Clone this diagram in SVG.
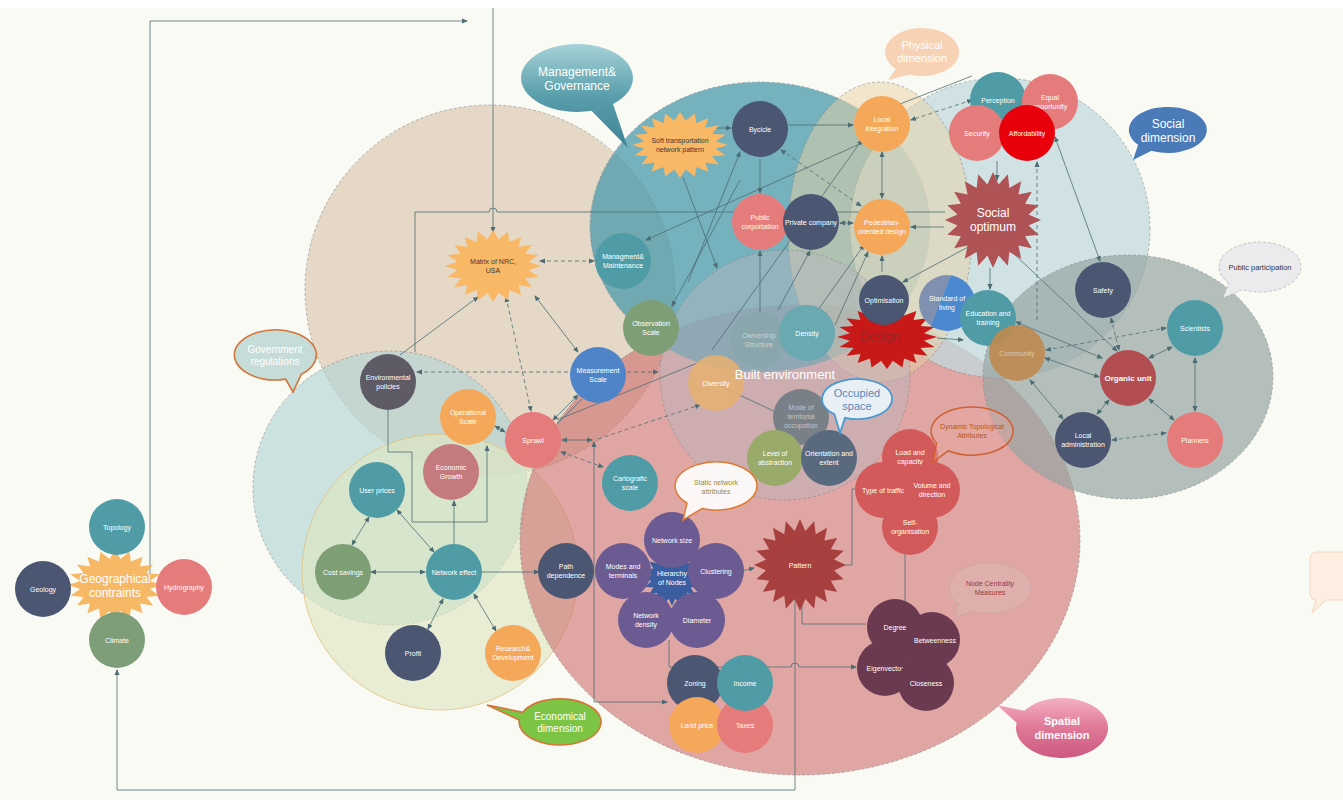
<svg xmlns="http://www.w3.org/2000/svg" width="1343" height="800" viewBox="0 0 1343 800">
<style>
.t{font-family:"Liberation Sans",Arial,sans-serif;font-size:7px;fill:#fff;text-anchor:middle}
.tb{font-family:"Liberation Sans",Arial,sans-serif;text-anchor:middle}
.c{stroke:#4d6c72;stroke-width:0.8;fill:none}
.d{stroke-dasharray:4 3}
.reg{stroke:#8a8a8a;stroke-width:0.6;stroke-dasharray:3 2}
</style>
<defs>
<marker id="a" markerWidth="6" markerHeight="6" refX="5" refY="3" orient="auto-start-reverse" markerUnits="userSpaceOnUse"><path d="M0,0.5 L6,3 L0,5.5 Z" fill="#4d6c72"/></marker>
<path id="star" d="M100,0 L74.1,11.7 L95.1,30.9 L66.8,34.1 L80.9,58.8 L53,53 L58.8,80.9 L34.1,66.8 L30.9,95.1 L11.7,74.1 L0,100 L-11.7,74.1 L-30.9,95.1 L-34.1,66.8 L-58.8,80.9 L-53,53 L-80.9,58.8 L-66.8,34.1 L-95.1,30.9 L-74.1,11.7 L-100,0 L-74.1,-11.7 L-95.1,-30.9 L-66.8,-34.1 L-80.9,-58.8 L-53,-53 L-58.8,-80.9 L-34.1,-66.8 L-30.9,-95.1 L-11.7,-74.1 L0,-100 L11.7,-74.1 L30.9,-95.1 L34.1,-66.8 L58.8,-80.9 L53,-53 L80.9,-58.8 L66.8,-34.1 L95.1,-30.9 L74.1,-11.7 Z"/>
<linearGradient id="gMg" x1="0" y1="0" x2="0" y2="1"><stop offset="0" stop-color="#a6d2d8"/><stop offset="0.5" stop-color="#5a9eac"/><stop offset="1" stop-color="#3e8494"/></linearGradient>
<linearGradient id="gSp" x1="0" y1="0" x2="0" y2="1"><stop offset="0" stop-color="#f4b0c4"/><stop offset="0.5" stop-color="#e07898"/><stop offset="1" stop-color="#cc5880"/></linearGradient>
<linearGradient id="gSt" x1="0" y1="0" x2="1" y2="0.4"><stop offset="0.5" stop-color="#8090b0"/><stop offset="0.5" stop-color="#4a88d0"/></linearGradient>
</defs>
<rect x="0" y="0" width="1343" height="800" fill="#fafaf5"/>
<rect x="0" y="0" width="1343" height="8" fill="#ffffff"/>

<g id="regions">
<circle cx="490" cy="290" r="185" fill="#dcc9b2" fill-opacity="0.7" class="reg"/>
<circle cx="390" cy="488" r="137" fill="#b4d6d6" fill-opacity="0.65" class="reg"/>
<circle cx="440" cy="572" r="138" fill="#dfe6c2" fill-opacity="0.65" stroke="#e2c27e" stroke-width="0.8"/>
<ellipse cx="800" cy="540" rx="280" ry="235" fill="#cd6e6e" fill-opacity="0.6" class="reg"/>
<ellipse cx="760" cy="227" rx="170" ry="145" fill="#4a9aab" fill-opacity="0.75" class="reg"/>
<circle cx="1000" cy="228" r="150" fill="#c2d9de" fill-opacity="0.75" class="reg"/>
<ellipse cx="880" cy="232" rx="92" ry="150" fill="#e8cfa4" fill-opacity="0.5" class="reg"/>
<ellipse cx="1128" cy="377" rx="145" ry="122" fill="#95a5a3" fill-opacity="0.7" class="reg"/>
<circle cx="785" cy="375" r="125" fill="#b9b5be" fill-opacity="0.45" class="reg"/>
</g>

<g id="connectors">
<polyline class="c" points="150,584 150,21 467,21" marker-end="url(#a)"/>
<line class="c" x1="493" y1="8" x2="493" y2="232" marker-end="url(#a)"/>
<polyline class="c" points="795,566 795,790 117,790 117,670" marker-end="url(#a)"/>
<line class="c" x1="117" y1="620" x2="117" y2="612" marker-end="url(#a)"/>
<path class="c" d="M415,352 L415,212 L489,212 A4,4 0 0 1 497,212 L945,212"/>
<polyline class="c" points="388,410 388,452 412,452 412,522 487,522 487,446" marker-end="url(#a)"/>
<line class="c" x1="454" y1="544" x2="454" y2="501" marker-end="url(#a)"/>
<line class="c" x1="482" y1="572" x2="539" y2="572" marker-end="url(#a)"/>
<line class="c" x1="371" y1="572" x2="425" y2="572" marker-start="url(#a)" marker-end="url(#a)"/>
<line class="c" x1="369" y1="517" x2="352" y2="545" marker-start="url(#a)" marker-end="url(#a)"/>
<line class="c" x1="397" y1="510" x2="434" y2="552" marker-start="url(#a)" marker-end="url(#a)"/>
<line class="c" x1="443" y1="599" x2="428" y2="629" marker-start="url(#a)" marker-end="url(#a)"/>
<line class="c" x1="474" y1="594" x2="496" y2="631" marker-start="url(#a)" marker-end="url(#a)"/>
<line class="c" x1="400" y1="355" x2="478" y2="297" marker-end="url(#a)"/>
<line class="c d" x1="417" y1="372" x2="658" y2="372" marker-start="url(#a)" marker-end="url(#a)"/>
<line class="c d" x1="540" y1="261" x2="594" y2="261" marker-start="url(#a)" marker-end="url(#a)"/>
<line class="c" x1="535" y1="296" x2="578" y2="352" marker-start="url(#a)" marker-end="url(#a)"/>
<line class="c d" x1="506" y1="297" x2="531" y2="411" marker-start="url(#a)" marker-end="url(#a)"/>
<line class="c" x1="578" y1="395" x2="553" y2="420" marker-start="url(#a)" marker-end="url(#a)"/>
<line class="c" x1="582" y1="399" x2="557" y2="424"/>
<line class="c" x1="495" y1="426" x2="505" y2="432" marker-start="url(#a)" marker-end="url(#a)"/>
<line class="c" x1="562" y1="440" x2="592" y2="440" marker-start="url(#a)" marker-end="url(#a)"/>
<polyline class="c" points="594,442 594,702 667,702" marker-start="url(#a)" marker-end="url(#a)"/>
<line class="c d" x1="561" y1="452" x2="603" y2="467" marker-start="url(#a)" marker-end="url(#a)"/>
<line class="c d" x1="598" y1="439" x2="700" y2="405" marker-end="url(#a)"/>
<line class="c" x1="557" y1="420" x2="700" y2="362"/>
<line class="c" x1="740" y1="180" x2="672" y2="306" marker-end="url(#a)"/>
<line class="c" x1="683" y1="177" x2="717" y2="268" marker-end="url(#a)"/>
<line class="c" x1="688" y1="282" x2="740" y2="152" marker-end="url(#a)"/>
<line class="c" x1="714" y1="128" x2="731" y2="128" marker-end="url(#a)"/>
<line class="c" x1="789" y1="125" x2="853" y2="125" marker-end="url(#a)"/>
<line class="c" x1="760" y1="159" x2="760" y2="193" marker-end="url(#a)"/>
<line class="c d" x1="781" y1="150" x2="861" y2="206" marker-start="url(#a)" marker-end="url(#a)"/>
<line class="c" x1="882" y1="152" x2="882" y2="198" marker-start="url(#a)" marker-end="url(#a)"/>
<line class="c" x1="840" y1="223" x2="853" y2="223" marker-start="url(#a)" marker-end="url(#a)"/>
<line class="c" x1="944" y1="227" x2="911" y2="227" marker-end="url(#a)"/>
<line class="c d" x1="972" y1="100" x2="911" y2="120" marker-start="url(#a)" marker-end="url(#a)"/>
<line class="c" x1="900" y1="104" x2="972" y2="76"/>
<line class="c" x1="862" y1="143" x2="646" y2="240" marker-end="url(#a)"/>
<line class="c" x1="760" y1="312" x2="760" y2="251" marker-end="url(#a)"/>
<line class="c" x1="778" y1="310" x2="810" y2="251" marker-end="url(#a)"/>
<line class="c" x1="818" y1="310" x2="864" y2="245" marker-end="url(#a)"/>
<line class="c" x1="835" y1="325" x2="868" y2="252" marker-end="url(#a)"/>
<line class="c" x1="882" y1="272" x2="882" y2="256" marker-end="url(#a)"/>
<line class="c" x1="712" y1="350" x2="862" y2="140" marker-end="url(#a)"/>
<line class="c" x1="968" y1="247" x2="903" y2="282" marker-end="url(#a)"/>
<line class="c" x1="997" y1="161" x2="997" y2="180" marker-end="url(#a)"/>
<line class="c d" x1="1037" y1="162" x2="1037" y2="320" marker-start="url(#a)"/>
<line class="c" x1="1055" y1="137" x2="1100" y2="261" marker-start="url(#a)" marker-end="url(#a)"/>
<line class="c" x1="990" y1="268" x2="990" y2="289" marker-end="url(#a)"/>
<line class="c" x1="1013" y1="253" x2="1117" y2="351" marker-end="url(#a)"/>
<line class="c" x1="1016" y1="322" x2="1102" y2="358" marker-start="url(#a)" marker-end="url(#a)"/>
<line class="c" x1="1045" y1="358" x2="1099" y2="377" marker-start="url(#a)" marker-end="url(#a)"/>
<line class="c d" x1="1046" y1="350" x2="1166" y2="328" marker-start="url(#a)" marker-end="url(#a)"/>
<line class="c d" x1="1111" y1="318" x2="1119" y2="350" marker-start="url(#a)" marker-end="url(#a)"/>
<line class="c" x1="1149" y1="358" x2="1172" y2="347" marker-start="url(#a)" marker-end="url(#a)"/>
<line class="c" x1="1195" y1="358" x2="1195" y2="411" marker-start="url(#a)" marker-end="url(#a)"/>
<line class="c" x1="1149" y1="399" x2="1174" y2="420" marker-start="url(#a)" marker-end="url(#a)"/>
<line class="c" x1="1109" y1="400" x2="1097" y2="414" marker-start="url(#a)" marker-end="url(#a)"/>
<line class="c d" x1="1112" y1="440" x2="1166" y2="433" marker-start="url(#a)" marker-end="url(#a)"/>
<line class="c" x1="1030" y1="380" x2="1063" y2="419" marker-start="url(#a)" marker-end="url(#a)"/>
<line class="c" x1="937" y1="338" x2="963" y2="340" marker-end="url(#a)"/>
<line class="c" x1="718" y1="385" x2="780" y2="414" marker-end="url(#a)"/>
<line class="c" x1="742" y1="571" x2="754" y2="568" marker-end="url(#a)"/>
<polyline class="c" points="845,565 852,565 852,489 880,489"/>
<line class="c" x1="905" y1="492" x2="905" y2="646" marker-start="url(#a)" marker-end="url(#a)"/>
<polyline class="c" points="802,580 802,624 866,624"/>
<path class="c" d="M669,640 L669,667 L791,667 A4,4 0 0 1 799,667 L856,667" marker-end="url(#a)"/>
</g>

<g id="geographical-contraints">
<use href="#star" transform="translate(115,585) scale(0.47,0.35)" fill="#f7b866"/>
<text class="tb" x="115" y="583" font-size="12" fill="#fff">Geographical</text>
<text class="tb" x="115" y="597" font-size="12" fill="#fff">contraints</text>
</g>
<g id="topology"><circle cx="117" cy="527" r="28" fill="#4f9ca6"/><text class="t" x="117" y="530">Topology</text></g>
<g id="geology"><circle cx="43" cy="589" r="28" fill="#4b5672"/><text class="t" x="43" y="592">Geology</text></g>
<g id="hydrography"><circle cx="184" cy="587" r="28" fill="#e57b7b"/><text class="t" x="184" y="590">Hydrography</text></g>
<g id="climate"><circle cx="117" cy="640" r="28" fill="#7e9e7a"/><text class="t" x="117" y="643">Climate</text></g>

<g id="matrix-nrc">
<use href="#star" transform="translate(493,266) scale(0.48,0.36)" fill="#f8b866"/>
<text class="t" x="493" y="264" style="fill:#3a3a3a">Matrix of NRC,</text>
<text class="t" x="493" y="273" style="fill:#3a3a3a">USA</text>
</g>
<g id="environmental-policies"><circle cx="388" cy="382" r="28" fill="#5e5a66"/><text class="t" x="388" y="380">Environmental<tspan x="388" dy="9">policies</tspan></text></g>
<g id="operational-scale"><circle cx="468" cy="417" r="28" fill="#f5a85a"/><text class="t" x="468" y="415">Operational<tspan x="468" dy="9">Scale</tspan></text></g>
<g id="sprawl"><circle cx="533" cy="440" r="28" fill="#e57b7b"/><text class="t" x="533" y="443">Sprawl</text></g>
<g id="measurement-scale"><circle cx="598" cy="375" r="28" fill="#4f85c8"/><text class="t" x="598" y="373">Measurement<tspan x="598" dy="9">Scale</tspan></text></g>
<g id="observation-scale"><circle cx="651" cy="328" r="28" fill="#7e9e76"/><text class="t" x="651" y="326">Observation<tspan x="651" dy="9">Scale</tspan></text></g>
<g id="managment-maintenance"><circle cx="623" cy="261" r="28" fill="#4f9ca6"/><text class="t" x="623" y="259">Managment&amp;<tspan x="623" dy="9">Maintenance</tspan></text></g>

<g id="economic-growth"><circle cx="451" cy="472" r="28" fill="#c57a80"/><text class="t" x="451" y="470">Economic<tspan x="451" dy="9">Growth</tspan></text></g>
<g id="user-prices"><circle cx="377" cy="490" r="28" fill="#4f9ca6"/><text class="t" x="377" y="493">User prices</text></g>
<g id="cost-savings"><circle cx="343" cy="572" r="28" fill="#7e9e76"/><text class="t" x="343" y="575">Cost savings</text></g>
<g id="network-effect"><circle cx="454" cy="572" r="28" fill="#4f9ca6"/><text class="t" x="454" y="575">Network effect</text></g>
<g id="profit"><circle cx="413" cy="653" r="28" fill="#4b5672"/><text class="t" x="413" y="656">Profit</text></g>
<g id="research-development"><circle cx="513" cy="653" r="28" fill="#f5a85a"/><text class="t" x="513" y="651">Research&amp;<tspan x="513" dy="9">Development</tspan></text></g>
<g id="path-dependence"><circle cx="566" cy="571" r="28" fill="#4b5672"/><text class="t" x="566" y="569">Path<tspan x="566" dy="9">dependence</tspan></text></g>

<g id="soft-transportation">
<use href="#star" transform="translate(680,145) scale(0.48,0.33)" fill="#f8b866"/>
<text class="t" x="680" y="143" style="fill:#3a3a3a">Soft transportation</text>
<text class="t" x="680" y="152" style="fill:#3a3a3a">network pattern</text>
</g>
<g id="bycicle"><circle cx="760" cy="129" r="28" fill="#4b5672"/><text class="t" x="760" y="132">Bycicle</text></g>
<g id="local-integration"><circle cx="882" cy="124" r="28" fill="#f5a85a"/><text class="t" x="882" y="122">Local<tspan x="882" dy="9">integration</tspan></text></g>
<g id="public-corportation"><circle cx="760" cy="222" r="28" fill="#e57b7b"/><text class="t" x="760" y="220">Public<tspan x="760" dy="9">corportation</tspan></text></g>
<g id="private-company"><circle cx="811" cy="222" r="28" fill="#4b5672"/><text class="t" x="811" y="225">Private company</text></g>
<g id="pedestrian-oriented-design"><circle cx="882" cy="227" r="28" fill="#f5a85a"/><text class="t" x="882" y="225">Pedestrian-<tspan x="882" dy="9">oriented design</tspan></text></g>

<g id="ownership-structure"><circle cx="759" cy="340" r="28" fill="#86a6a8" fill-opacity="0.75"/><text class="t" x="759" y="338" style="fill:#c8d4d4">Ownership<tspan x="759" dy="9">Structure</tspan></text></g>
<g id="density"><circle cx="807" cy="333" r="28" fill="#6aa8b2"/><text class="t" x="807" y="336">Density</text></g>
<g id="diversity"><circle cx="716" cy="383" r="28" fill="#e8b070" fill-opacity="0.85"/><text class="t" x="716" y="386">Diversity</text></g>
<g id="design">
<use href="#star" transform="translate(887,337) scale(0.5,0.32)" fill="#c81818"/>
<text class="tb" x="880" y="341" font-size="13" fill="#8a2a2a" fill-opacity="0.8">Design</text>
</g>
<g id="optimisation"><circle cx="884" cy="300" r="25" fill="#4b5672"/><text class="t" x="884" y="303">Optimisation</text></g>
<g id="standard-of-living"><circle cx="947" cy="303" r="28" fill="url(#gSt)"/><text class="t" x="947" y="301">Standard of<tspan x="947" dy="9">living</tspan></text></g>
<g id="mode-territorial-occupation"><circle cx="801" cy="417" r="28" fill="#7a8088"/><text class="t" x="801" y="410" style="fill:#c0c4c8">Mode of<tspan x="801" dy="9">territorial</tspan><tspan x="801" dy="9">occupation</tspan></text></g>
<g id="level-of-abstraction"><circle cx="775" cy="458" r="28" fill="#9aaa6a"/><text class="t" x="775" y="456">Level of<tspan x="775" dy="9">abstraction</tspan></text></g>
<g id="orientation-extent"><circle cx="829" cy="458" r="28" fill="#5a6a7e"/><text class="t" x="829" y="456">Orientation and<tspan x="829" dy="9">extent</tspan></text></g>
<text id="built-environment-label" class="tb" x="785" y="379" font-size="13" fill="#fff">Built environment</text>

<g id="perception"><circle cx="998" cy="100" r="28" fill="#4f9ca6"/><text class="t" x="998" y="103">Perception</text></g>
<g id="equal-opportunity"><circle cx="1050" cy="102" r="28" fill="#e57b7b"/><text class="t" x="1050" y="100">Equal<tspan x="1050" dy="9">opportunity</tspan></text></g>
<g id="security"><circle cx="977" cy="133" r="28" fill="#e57b7b"/><text class="t" x="977" y="136">Security</text></g>
<g id="affordability"><circle cx="1027" cy="133" r="28" fill="#e8000a"/><text class="t" x="1027" y="136">Affordability</text></g>
<g id="social-optimum">
<use href="#star" transform="translate(993,220) scale(0.48,0.48)" fill="#b05356"/>
<text class="tb" x="993" y="217" font-size="12" fill="#fff">Social</text>
<text class="tb" x="993" y="231" font-size="12" fill="#fff">optimum</text>
</g>
<g id="education-training"><circle cx="988" cy="318" r="28" fill="#4f9ca6"/><text class="t" x="988" y="316">Education and<tspan x="988" dy="9">training</tspan></text></g>
<g id="community"><circle cx="1017" cy="353" r="28" fill="#c08a50" fill-opacity="0.9"/><text class="t" x="1017" y="356" style="fill:#e0c8a8">Community</text></g>
<g id="safety"><circle cx="1103" cy="290" r="28" fill="#4b5672"/><text class="t" x="1103" y="293">Safety</text></g>
<g id="scientists"><circle cx="1195" cy="328" r="28" fill="#4f9ca6"/><text class="t" x="1195" y="331">Scientists</text></g>
<g id="organic-unit"><circle cx="1128" cy="378" r="28" fill="#b24d52"/><text class="t" x="1128" y="381" font-weight="bold" style="font-size:8px">Organic unit</text></g>
<g id="local-administration"><circle cx="1083" cy="440" r="28" fill="#4b5672"/><text class="t" x="1083" y="438">Local<tspan x="1083" dy="9">administration</tspan></text></g>
<g id="planners"><circle cx="1195" cy="440" r="28" fill="#e57b7b"/><text class="t" x="1195" y="443">Planners</text></g>

<g id="cartografic-scale"><circle cx="630" cy="483" r="28" fill="#4f9ca6"/><text class="t" x="630" y="481">Cartografic<tspan x="630" dy="9">scale</tspan></text></g>
<g id="hierarchy-of-nodes">
<use href="#star" transform="translate(672,578) scale(0.28,0.28)" fill="#3a5ea0"/>
<text class="t" x="672" y="576">Hierarchy<tspan x="672" dy="9">of Nodes</tspan></text>
</g>
<g id="network-size"><circle cx="672" cy="540" r="28" fill="#6c5b92"/><text class="t" x="672" y="543">Network size</text></g>
<g id="modes-terminals"><circle cx="623" cy="571" r="28" fill="#6c5b92"/><text class="t" x="623" y="569">Modes and<tspan x="623" dy="9">terminals</tspan></text></g>
<g id="clustering"><circle cx="716" cy="571" r="28" fill="#6c5b92"/><text class="t" x="716" y="574">Clustering</text></g>
<g id="network-density"><circle cx="646" cy="620" r="28" fill="#6c5b92"/><text class="t" x="646" y="618">Network<tspan x="646" dy="9">density</tspan></text></g>
<g id="diameter"><circle cx="697" cy="620" r="28" fill="#6c5b92"/><text class="t" x="697" y="623">Diameter</text></g>
<g id="pattern">
<use href="#star" transform="translate(800,565) scale(0.46,0.46)" fill="#a8403f"/>
<text class="t" x="800" y="568">Pattern</text>
</g>
<g id="zoning"><circle cx="695" cy="683" r="28" fill="#4b5672"/><text class="t" x="695" y="686">Zoning</text></g>
<g id="land-price"><circle cx="697" cy="725" r="28" fill="#f5a85a"/><text class="t" x="697" y="728">Land price</text></g>
<g id="taxes"><circle cx="745" cy="725" r="28" fill="#e57b7b"/><text class="t" x="745" y="728">Taxes</text></g>
<g id="income"><circle cx="745" cy="683" r="28" fill="#4f9ca6"/><text class="t" x="745" y="686">Income</text></g>

<g id="load-capacity"><circle cx="910" cy="457" r="28" fill="#d35a5a"/><text class="t" x="910" y="455">Load and<tspan x="910" dy="9">capacity</tspan></text></g>
<g id="type-of-traffic"><circle cx="883" cy="490" r="28" fill="#d35a5a"/><text class="t" x="883" y="493">Type of traffic</text></g>
<g id="volume-direction"><circle cx="932" cy="490" r="28" fill="#d35a5a"/><text class="t" x="932" y="488">Volume and<tspan x="932" dy="9">direction</tspan></text></g>
<g id="self-organisation"><circle cx="910" cy="527" r="28" fill="#d35a5a"/><text class="t" x="910" y="525">Self-<tspan x="910" dy="9">organisation</tspan></text></g>

<g id="degree"><circle cx="895" cy="627" r="28" fill="#6b3a50"/><text class="t" x="895" y="630">Degree</text></g>
<g id="betweenness"><circle cx="932" cy="640" r="28" fill="#6b3a50"/><text class="t" x="935" y="643">Betweenness</text></g>
<g id="eigenvector"><circle cx="885" cy="668" r="28" fill="#6b3a50"/><text class="t" x="885" y="671">Eigenvector</text></g>
<g id="closeness"><circle cx="926" cy="683" r="28" fill="#6b3a50"/><text class="t" x="926" y="686">Closeness</text></g>

<g id="bubble-management-governance">
<path d="M591.5,110.8 A56,34 0 1 1 613,104 L628,148 Z" fill="url(#gMg)"/>
<text class="tb" x="577" y="76" font-size="12" fill="#fff">Management&amp;</text>
<text class="tb" x="577" y="90" font-size="12" fill="#fff">Governance</text>
</g>
<g id="bubble-physical-dimension">
<path d="M895.8,69 A37,24 0 1 1 909.3,74.6 L888,80 Z" fill="#f6cdae" fill-opacity="0.9"/>
<text class="tb" x="922" y="49" font-size="11" fill="#fff">Physical</text>
<text class="tb" x="922" y="62" font-size="11" fill="#fff">dimension</text>
</g>
<g id="bubble-social-dimension">
<path d="M1138.1,144.8 A39,23 0 1 1 1151.5,150.8 L1133,160 Z" fill="#4a7ab8"/>
<text class="tb" x="1168" y="128" font-size="12" fill="#fff">Social</text>
<text class="tb" x="1168" y="142" font-size="12" fill="#fff">dimension</text>
</g>
<g id="bubble-public-participation">
<path d="M1228.6,283.1 A41,25 0 1 1 1242.7,289.7 L1223,298 Z" fill="#ebebee" stroke="#a0a0a0" stroke-width="0.6" stroke-dasharray="3 2"/>
<text class="tb" x="1260" y="270" font-size="7.5" fill="#333">Public participation</text>
</g>
<g id="bubble-government-regulations">
<path d="M285.6,379.1 A41,25 0 1 1 301.4,374.2 L293,392 Z" fill="#c6dcd8" stroke="#d4763a" stroke-width="1.6"/>
<text class="tb" x="275" y="353" font-size="10" fill="#fff">Government</text>
<text class="tb" x="275" y="365" font-size="10" fill="#fff">regulations</text>
</g>
<g id="bubble-economical-dimension">
<path d="M522.8,712.3 A41,23 0 1 1 519.2,720 L487,705 Z" fill="#7cc444" stroke="#d4763a" stroke-width="1.6"/>
<text class="tb" x="560" y="720" font-size="10" fill="#fff">Economical</text>
<text class="tb" x="560" y="732" font-size="10" fill="#fff">dimension</text>
</g>
<g id="bubble-static-network">
<path d="M687,503 A41,24 0 1 1 702,508.6 L683,520 Z" fill="#ffffff" fill-opacity="0.9" stroke="#e07a30" stroke-width="1.5"/>
<text class="tb" x="716" y="485" font-size="7" fill="#a08a30">Static network</text>
<text class="tb" x="716" y="494" font-size="7" fill="#a08a30">attributes</text>
</g>
<g id="bubble-dynamic-topological">
<path d="M936.5,443 A41,24 0 1 1 948.5,450.7 L933,462 Z" fill="#e8a8a0" fill-opacity="0.4" stroke="#d06030" stroke-width="1.5"/>
<text class="tb" x="972" y="429" font-size="7" fill="#b05a20">Dynamic Topological</text>
<text class="tb" x="972" y="438" font-size="7" fill="#b05a20">Attributes</text>
</g>
<g id="bubble-occupied-space">
<path d="M834.5,414.3 A35,20 0 1 1 845,417.8 L840,433 Z" fill="#e8f0f6" stroke="#4a9ad0" stroke-width="1.8"/>
<text class="tb" x="857" y="397" font-size="11" fill="#5a88b8">Occupied</text>
<text class="tb" x="857" y="410" font-size="11" fill="#5a88b8">space</text>
</g>
<g id="bubble-node-centrality">
<path d="M958.6,604.1 A41,25 0 1 1 972.7,610.7 L955,618 Z" fill="#e0b8b4" fill-opacity="0.5" stroke="#b8a8a4" stroke-width="0.7" stroke-dasharray="3 2"/>
<text class="tb" x="990" y="586" font-size="7" fill="#9a3a3a">Node Centrality</text>
<text class="tb" x="990" y="595" font-size="7" fill="#9a3a3a">Measures</text>
</g>
<g id="bubble-spatial-dimension">
<path d="M1024.3,710.8 A46,30 0 1 1 1016.7,722.8 L997,705 Z" fill="url(#gSp)"/>
<text class="tb" x="1062" y="725" font-size="11" font-weight="bold" fill="#fff">Spatial</text>
<text class="tb" x="1062" y="739" font-size="11" font-weight="bold" fill="#fff">dimension</text>
</g>
<g id="bubble-right-edge">
<path d="M1318,552 L1350,552 L1350,600 L1326,600 L1312,613 L1316,600 Q1310,600 1310,592 L1310,560 Q1310,552 1318,552 Z" fill="#fdeee2" stroke="#f0cdb4" stroke-width="0.8"/>
</g>
</svg>
